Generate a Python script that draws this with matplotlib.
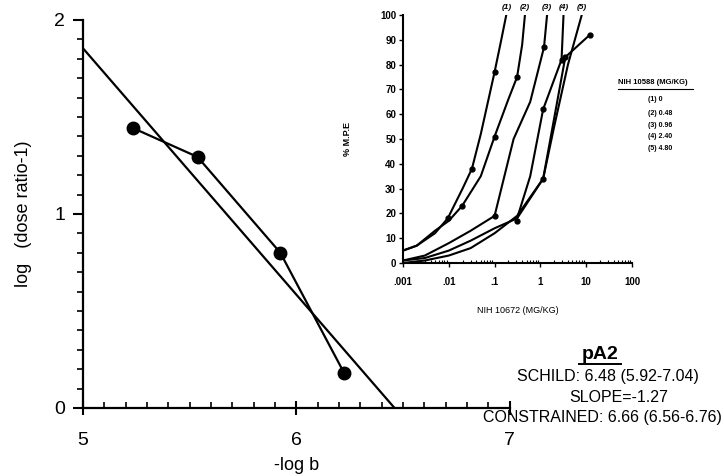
import numpy as np
import matplotlib
matplotlib.use("Agg")
import matplotlib.pyplot as plt
from matplotlib.ticker import MultipleLocator, FixedLocator, NullFormatter

plt.rcParams['font.family'] = ['Liberation Sans', 'DejaVu Sans']

# Schild plot data
neg_log_b = [5.234, 5.537, 5.925, 6.224]
log_dr = [1.443, 1.294, 0.80, 0.18]
slope = -1.27
x_intercept = 6.46

# inset dose-response curves (NIH 10672 dose, % M.P.E)
curve_x = [
    [0.001, 0.002, 0.005, 0.0095, 0.02, 0.032, 0.05, 0.1, 0.14, 0.18],
    [0.001, 0.002, 0.005, 0.01, 0.0195, 0.05, 0.1, 0.2, 0.31, 0.4, 0.46],
    [0.001, 0.003, 0.01, 0.03, 0.1, 0.26, 0.6, 1.2, 1.4],
    [0.001, 0.003, 0.01, 0.03, 0.1, 0.31, 0.6, 1.15, 2.9, 3.2],
    [0.001, 0.003, 0.01, 0.03, 0.1, 0.31, 1.15, 2.0, 4.0, 8.0],
]
curve_y = [
    [5, 7, 12, 18, 30, 38, 52, 77, 90, 100],
    [5, 7, 13, 17, 23, 35, 51, 66, 75, 88, 100],
    [1, 3, 8, 13, 19, 50, 65, 87, 100],
    [1, 2, 5, 9, 14, 18, 35, 62, 82, 100],
    [0, 1, 3, 6, 12, 19, 34, 55, 80, 100],
]
marker_x = [
    [0.0095, 0.032, 0.1],
    [0.0195, 0.1, 0.31],
    [0.1, 1.2],
    [0.31, 1.15, 2.9],
    [1.15, 3.5, 12],
]
marker_y = [
    [18, 38, 77],
    [23, 51, 75],
    [19, 87],
    [17, 62, 82],
    [34, 83, 92],
]
# data line for curve 5 beyond its fit
c5_data_x = [0.31, 1.15, 3.5, 12]
c5_data_y = [18, 34, 83, 92]

curve_labels = ["(1)", "(2)", "(3)", "(4)", "(5)"]
legend_items = ["(1) 0", "(2) 0.48", "(3) 0.96", "(4) 2.40", "(5) 4.80"]

fig = plt.figure(figsize=(7.24, 4.76), dpi=100)

ax = fig.add_axes([0.1146, 0.143, 0.5894, 0.815])
ax.plot(neg_log_b, log_dr, color='black', lw=1.6, marker='o', ms=9)
fx = np.array([5.0, x_intercept])
ax.plot(fx, slope * (fx - x_intercept), color='black', lw=1.6)
ax.set_xlim(5, 7)
ax.set_ylim(0, 2)
for s in ['top', 'right']:
    ax.spines[s].set_visible(False)
ax.spines['left'].set_linewidth(1.6)
ax.spines['bottom'].set_linewidth(1.6)
ax.set_xticks([5, 6, 7])
ax.set_yticks([0, 1, 2])
ax.xaxis.set_minor_locator(MultipleLocator(0.1))
ax.yaxis.set_minor_locator(MultipleLocator(0.1))
ax.tick_params(axis='x', which='major', direction='inout', length=10, width=1.5, labelsize=14, pad=12)
ax.tick_params(axis='x', which='minor', direction='in', length=4, width=1.2)
ax.tick_params(axis='y', which='major', direction='out', length=7, width=1.5, labelsize=14, pad=6)
ax.tick_params(axis='y', which='minor', direction='out', length=4, width=1.2)
ax.set_xlabel('-log b', fontsize=13, labelpad=6)
ax.set_ylabel('log   (dose ratio-1)', fontsize=13, labelpad=16)
ax.patch.set_alpha(0)

# inset
ins = fig.add_axes([0.5566, 0.4475, 0.3163, 0.521])
for cx, cy in zip(curve_x, curve_y):
    ins.plot(cx, cy, color='black', lw=1.5)
ins.plot(c5_data_x, c5_data_y, color='black', lw=1.5)
for mx, my in zip(marker_x, marker_y):
    ins.plot(mx, my, ls='none', marker='o', ms=3.5, color='black')
ins.set_xscale('log')
ins.set_xlim(0.001, 100)
ins.set_ylim(0, 100)
for s in ['top', 'right']:
    ins.spines[s].set_visible(False)
ins.spines['left'].set_linewidth(1.5)
ins.spines['bottom'].set_linewidth(1.5)
ins.set_yticks(range(0, 101, 10))
ins.xaxis.set_major_locator(FixedLocator([0.001, 0.01, 0.1, 1, 10, 100]))
ins.set_xticklabels(['.001', '.01', '.1', '1', '10', '100'])
ins.xaxis.set_minor_formatter(NullFormatter())
ins.tick_params(axis='y', which='major', direction='out', length=3, width=1,
                labelsize=7, pad=2)
ins.tick_params(axis='x', which='major', direction='out', length=3, width=1,
                labelsize=7, pad=7)
ins.tick_params(axis='x', which='minor', direction='in', length=2, width=0.8)
for lbl in ins.get_xticklabels() + ins.get_yticklabels():
    lbl.set_fontweight('bold')
ins.set_xlabel('NIH 10672 (MG/KG)', fontsize=6.5, labelpad=14)
ins.set_ylabel('% M.P.E', fontsize=6.5, fontweight='bold', labelpad=20)
ins.patch.set_alpha(0)
for lab, cx in zip(curve_labels, curve_x):
    ins.text(cx[-1], 101.5, lab, fontsize=6, fontweight='bold', fontstyle='italic',
             ha='center', va='bottom')

# legend text
fig.text(0.8535, 0.826, 'NIH 10588 (MG/KG)', fontsize=5.5, fontweight='bold', ha='left', va='center')
fig.add_artist(plt.Line2D([0.8535, 0.957], [0.813, 0.813], color='black', lw=0.8))
leg_y = [0.790, 0.761, 0.737, 0.714, 0.687]
for t, yy in zip(legend_items, leg_y):
    fig.text(0.895, yy, t, fontsize=5, fontweight='bold', ha='left', va='center')

# pA2 text
fig.text(0.829, 0.256, 'pA2', fontsize=14, fontweight='bold', ha='center', va='center')
fig.add_artist(plt.Line2D([0.800, 0.858], [0.235, 0.235], color='black', lw=1.4))
fig.text(0.840, 0.209, 'SCHILD: 6.48 (5.92-7.04)', fontsize=11.5, ha='center', va='center')
fig.text(0.854, 0.164, 'SLOPE=-1.27', fontsize=11.5, ha='center', va='center')
fig.text(0.997, 0.122, 'CONSTRAINED: 6.66 (6.56-6.76)', fontsize=11.5, ha='right', va='center')

fig.savefig('out.png', dpi=100)
